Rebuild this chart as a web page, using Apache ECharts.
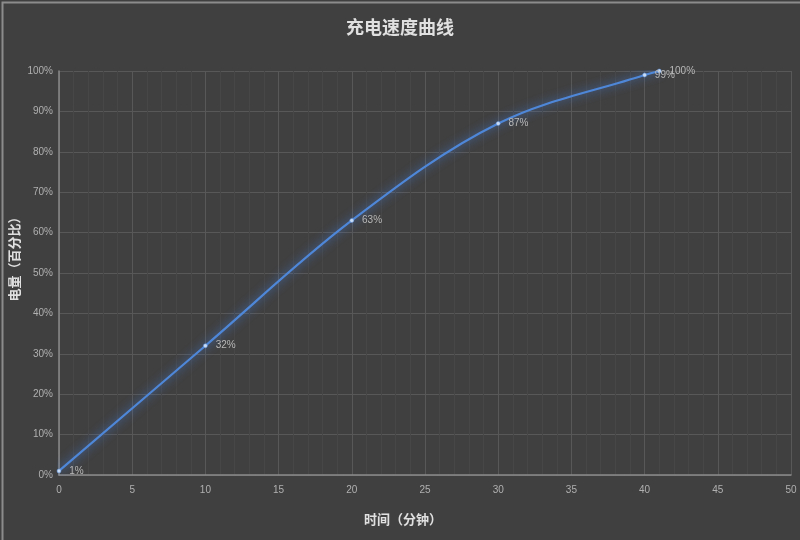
<!DOCTYPE html>
<html>
<head>
<meta charset="utf-8">
<script src="https://cdn.jsdelivr.net/npm/echarts@6/dist/echarts.min.js"></script>
<style>
html, body { margin: 0; padding: 0; background: #404040; }
#main { width: 800px; height: 540px; }
</style>
</head>
<body>
<div id="main"></div>
<script>
// 充电数据：时间（分钟）/ 电量（%）
var minutes = [0, 10, 20, 30, 40, 41];
var levels = [1, 32, 63, 87, 99, 100];

var chart = echarts.init(document.getElementById('main'));

var points = [];
for (var i = 0; i < minutes.length; i++) {
	points.push([minutes[i], levels[i]]);
}

var option = {
	backgroundColor: '#404040',
	title: {
		text: '充电速度曲线',
		left: 'center',
		top: 13,
		textStyle: { color: '#e0e0e0', fontSize: 18, fontWeight: 'bold', fontFamily: 'Noto Sans CJK SC' }
	},
	grid: { left: 59, right: 9, top: 71, bottom: 65, containLabel: false, outerBoundsMode: 'none' },
	xAxis: {
		type: 'value',
		min: 0, max: 50, interval: 5,
		name: '时间（分钟）',
		nameLocation: 'middle',
		nameGap: 38,
		nameMoveOverlap: false,
		nameTextStyle: { color: '#e0e0e0', fontSize: 13, fontWeight: 'bold', fontFamily: 'Noto Sans CJK SC', padding: [0, 44, 0, 0] },
		axisLine: { lineStyle: { color: '#8a8a8a', width: 1.5 } },
		axisTick: { show: false },
		axisLabel: { color: '#b0b0b0', fontSize: 10, margin: 10 },
		splitLine: { lineStyle: { color: '#585858' } },
		minorTick: { show: false, splitNumber: 5 },
		minorSplitLine: { show: true, lineStyle: { color: '#474747' } }
	},
	yAxis: {
		type: 'value',
		min: 0, max: 100, interval: 10,
		name: '电量（百分比）',
		nameLocation: 'middle',
		nameRotate: 90,
		nameGap: 38,
		nameMoveOverlap: false,
		nameTextStyle: { color: '#e0e0e0', fontSize: 13, fontWeight: 'bold', fontFamily: 'Noto Sans CJK SC', padding: [0, 0, 0, 34] },
		axisLine: { show: true, lineStyle: { color: '#8a8a8a', width: 1.5 } },
		axisTick: { show: false },
		axisLabel: { color: '#b0b0b0', fontSize: 10, formatter: '{value}%', margin: 6 },
		splitLine: { lineStyle: { color: '#585858' } }
	},
	series: [{
		type: 'line',
		data: points,
		smooth: 0.35,
		symbol: 'circle',
		symbolSize: 4,
		itemStyle: { color: '#c8dcf5', borderColor: '#5a8fdc', borderWidth: 0.5 },
		lineStyle: {
			color: '#4f87d8',
			width: 2.2,
			shadowColor: 'rgba(70,130,230,0.95)',
			shadowBlur: 10
		},
		label: {
			show: true,
			position: 'right',
			distance: 8,
			color: '#b8b8b8',
			fontSize: 10,
			formatter: function (p) { return p.value[1] + '%'; }
		}
	}],
	graphic: [{
		type: 'rect',
		left: 0, top: 0,
		shape: { width: 800, height: 540 },
		style: { fill: 'none', stroke: '#8c8c8c', lineWidth: 2 },
		silent: true
	}]
};

chart.setOption(option);
</script>
</body>
</html>
